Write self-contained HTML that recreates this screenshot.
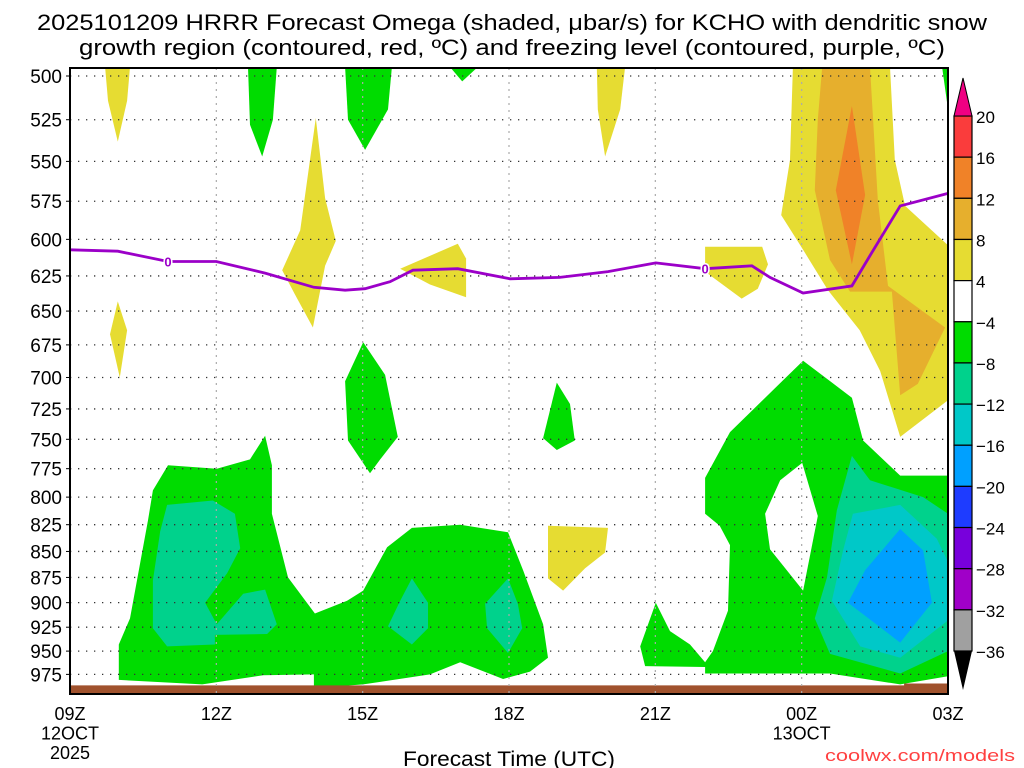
<!DOCTYPE html>
<html><head><meta charset="utf-8"><style>
body{margin:0;background:#fff;}
svg{display:block;font-family:"Liberation Sans",sans-serif;}
</style></head><body>
<svg id="chart" width="1024" height="768" viewBox="0 0 1024 768" xmlns="http://www.w3.org/2000/svg">
<rect width="1024" height="768" fill="#fff"/>
<text x="512" y="30" font-size="22" text-anchor="middle" fill="#000" textLength="950" lengthAdjust="spacingAndGlyphs">2025101209 HRRR Forecast Omega (shaded, μbar/s) for KCHO with dendritic snow</text>
<text x="512" y="55" font-size="22" text-anchor="middle" fill="#000" textLength="866" lengthAdjust="spacingAndGlyphs">growth region (contoured, red, ºC) and freezing level (contoured, purple, ºC)</text>
<g id="fills"></g>
<g id="grid"></g>
<g id="lines"></g>
<g id="axes"></g>
<g id="cbar"></g>
<text x="509" y="766" font-size="21" text-anchor="middle" textLength="212" lengthAdjust="spacingAndGlyphs">Forecast Time (UTC)</text>
<text x="1015" y="761" font-size="17" text-anchor="end" fill="#ff4040" textLength="190" lengthAdjust="spacingAndGlyphs">coolwx.com/models</text>
</svg>
<script>
const pTicks=[500,525,550,575,600,625,650,675,700,725,750,775,800,825,850,875,900,925,950,975];
const hTicks=[0,3,6,9,12,15,18];
const hLabels=[["09Z","12OCT","2025"],["12Z"],["15Z"],["18Z"],["21Z"],["00Z","13OCT"],["03Z"]];
const cbLevels=["20","16","12","8","4","−4","−8","−12","−16","−20","−24","−28","−32","−36"];
const cbColors=["#fa3c3c","#f08228","#e6af2d","#e6dc32","#ffffff","#00dc00","#00d28c","#00c8c8","#00a0ff","#1e3cff","#7800dc","#a000c8","#a0a0a0"];
const C={y:"#e6dc32",o1:"#e6af2d",o2:"#f08228",g:"#00dc00",t:"#00d28c",c:"#00c8c8",b:"#00a0ff",w:"#ffffff"};
// each region: [color, hours, pressures]
const regions=[
["y",[14.82,16.81,16.91,17.12,18,18,17.02,16.61,16.19,15.54,15.03,14.58,14.76],[495,495,549,578,604,718,748,695,664,635,607,584,549]],
["o1",[15.42,16.4,16.56,16.77,17.94,17.38,17.02,16.85,15.99,15.58,15.27,15.33],[495,495,574,632,662,705,714,636,636,614,568,525]],
["o2",[16.03,16.3,16.03,15.7],[517,571,617,568]],
["y",[0.72,1.23,1.17,0.98,0.78],[495,495,514,538,514]],
["g",[3.65,4.24,4.16,3.94,3.69],[495,495,525,547,528]],
["g",[5.64,6.6,6.52,6.05,5.7],[495,495,519,543,525]],
["g",[7.79,8.36,8.04],[495,495,503]],
["y",[10.8,11.38,11.28,10.97,10.82],[495,495,519,547,519]],
["g",[17.88,18,18],[495,495,519]],
["y",[5.04,5.23,5.45,5.23,4.98,4.61,4.35,4.72],[524,573,601,618,662,638,621,594]],
["y",[6.77,7.95,8.12,8.12,7.38],[620,603,613,640,631]],
["y",[13.02,14.19,14.31,14.1,13.77,13.02],[605,605,617,634,641,622]],
["y",[0.98,1.17,1.02,0.82],[643,664,700,667]],
["g",[6.01,6.46,6.72,6.36,6.15,5.7,5.64],[673,698,748,767,779,751,703]],
["g",[9.98,10.25,10.35,9.98,9.7],[704,721,751,759,749]],
["y",[9.8,11.03,10.97,10.56,10.11,9.8],[826,828,851,866,888,876]],
["g",[1.7,2.01,3.01,3.69,4.0,4.14,4.14,4.47,5.02,5.68,6.01,6.5,7.01,8.0,8.98,9.29,9.7,9.8,9.43,8.88,8.0,7.38,6.01,5.0,5.0,3.96,2.71,1.0,1.0,1.23,1.6],
 [794,772,775,767,747,772,815,875,911,898,888,846,828,825,832,868,922,957,972,980,962,975,986,990,975,976,986,981,943,916,821]],
["t",[1.99,2.93,3.38,3.49,3.22,2.77,3.01,3.55,4.0,4.24,4.04,2.97,2.97,1.99,1.7,1.7,1.85],[807,803,815,847,871,900,922,891,887,922,932,933,943,945,926,878,831]],
["t",[7.01,7.34,7.34,7.01,6.52,6.77],[876,900,926,943,924,898]],
["t",[8.98,9.18,9.27,8.98,8.55,8.51],[876,901,926,952,926,901]],
["g",[15.03,16.03,16.26,17.02,18,18,17.02,15.58,13.02,13.02,11.79,11.69,12.01,12.3,12.71,13.02,13.18,13.49,13.53,13.32,13.02,13.02,13.53],
 [687,716,751,781,781,977,986,974,974,967,966,945,900,929,943,962,950,908,844,826,815,783,744]],
["w",[15.01,15.33,15.03,14.35,14.25,14.56],[770,817,888,848,815,785]],
["t",[16.03,16.4,17.49,18,18,17.02,15.58,15.27,15.52,15.72],[764,785,800,815,950,974,953,916,875,812]],
["c",[16.05,17.02,17.77,18,18,17.02,16.2,15.62,15.85],[815,807,838,860,918,957,945,898,849]],
["b",[17.02,17.49,17.67,17.02,15.95,16.3],[829,849,900,941,900,868]]
];
const frzHours=[0,0.98,2.01,3.0,4.0,5.0,5.64,6.05,6.56,7.03,7.95,9.02,10.04,11.03,12.01,13.02,13.98,14.35,15.03,16.03,16.4,17.02,18];
const frzPres=[607,608,615,615,623,633,635,634,629,621,620,627,626,622,616,620,618,626,637,632,611,578,570];
const frzLabelHours=[2.01,13.02];
const frzLabelPres=[615,620];
const sfcHours=[0,17.1,17.1,18];
const sfcPres=[987,987,985,985];

const X0=70,X1=948,Y0=68,Y1=694;
const xS=h=>X0+h*(X1-X0)/18;
const yS=p=>76+896*Math.log(p/500);
const NS="http://www.w3.org/2000/svg";
function mk(tag,parent){const e=document.createElementNS(NS,tag);parent.appendChild(e);return e;}
const fills=document.getElementById('fills'),grid=document.getElementById('grid'),lines=document.getElementById('lines'),axes=document.getElementById('axes'),cbar=document.getElementById('cbar');
const svg=document.getElementById('chart');
const cp=mk('clipPath',svg);cp.setAttribute('id','clip');
const cr=mk('rect',cp);cr.setAttribute('x',X0);cr.setAttribute('y',Y0);cr.setAttribute('width',X1-X0);cr.setAttribute('height',Y1-Y0);
fills.setAttribute('clip-path','url(#clip)');
regions.forEach((r,i)=>{
  const pg=mk('polygon',fills);
  
  
  pg.setAttribute('points',r[1].map((h,j)=>xS(h).toFixed(1)+','+yS(r[2][j]).toFixed(1)).join(' '));
  pg.setAttribute('fill',C[r[0]]);
});
const sb=mk('polygon',fills);


sb.setAttribute('points',sfcHours.map((h,j)=>xS(h)+','+yS(sfcPres[j])).join(' ')+' '+X1+','+Y1+' '+X0+','+Y1);
sb.setAttribute('fill','#a0522d');
pTicks.forEach(p=>{
  const l=mk('line',grid);
  
  
  l.setAttribute('x1',X0);l.setAttribute('x2',X1);l.setAttribute('y1',yS(p));l.setAttribute('y2',yS(p));
  l.setAttribute('stroke','#333');l.setAttribute('stroke-width','1.3');l.setAttribute('stroke-dasharray','1.3 6.7');
  const t=mk('text',axes);
  
  
  t.setAttribute('x',62);t.setAttribute('y',yS(p)+7);t.setAttribute('font-size','19');t.setAttribute('text-anchor','end');
  t.textContent=p;
  const tk=mk('line',axes);
  
  
  tk.setAttribute('x1',X0-4);tk.setAttribute('x2',X0);tk.setAttribute('y1',yS(p));tk.setAttribute('y2',yS(p));tk.setAttribute('stroke','#000');
});
hTicks.forEach((h,i)=>{
  if(i>0&&i<hTicks.length-1){
    const l=mk('line',grid);
    
    
    l.setAttribute('x1',xS(h));l.setAttribute('x2',xS(h));l.setAttribute('y1',Y0);l.setAttribute('y2',Y1);
    l.setAttribute('stroke','#aaa');l.setAttribute('stroke-width','1.2');l.setAttribute('stroke-dasharray','2 5');
  }
  hLabels[i].forEach((s,k)=>{
    const t=mk('text',axes);
    
    
    t.setAttribute('x',xS(h));t.setAttribute('y',720+k*19.5);t.setAttribute('font-size','18');t.setAttribute('text-anchor','middle');
    t.textContent=s;
  });
});
const fl=mk('polyline',lines);


fl.setAttribute('points',frzHours.map((h,j)=>xS(h).toFixed(1)+','+yS(frzPres[j]).toFixed(1)).join(' '));
fl.setAttribute('fill','none');fl.setAttribute('stroke','#9b00c8');fl.setAttribute('stroke-width','2.8');
frzLabelHours.forEach((h,j)=>{
  const t=mk('text',lines);
  
  
  t.setAttribute('x',xS(h));t.setAttribute('y',yS(frzLabelPres[j])+5);t.setAttribute('font-size','13');t.setAttribute('font-weight','bold');
  t.setAttribute('text-anchor','middle');t.setAttribute('fill','#9b00c8');t.setAttribute('stroke','#fff');t.setAttribute('stroke-width','3');t.setAttribute('paint-order','stroke');
  t.textContent='0';
});
const fr=mk('rect',axes);


fr.setAttribute('x',X0);fr.setAttribute('y',Y0);fr.setAttribute('width',X1-X0);fr.setAttribute('height',Y1-Y0);
fr.setAttribute('fill','none');fr.setAttribute('stroke','#000');fr.setAttribute('stroke-width','2');
const CB0=116,CB1=651,cx0=954,cx1=972,bh=(CB1-CB0)/cbColors.length;
cbColors.forEach((c,i)=>{
  const r=mk('rect',cbar);
  
  
  r.setAttribute('x',cx0);r.setAttribute('y',CB0+i*bh);r.setAttribute('width',cx1-cx0);r.setAttribute('height',bh);
  r.setAttribute('fill',c);r.setAttribute('stroke','#000');r.setAttribute('stroke-width','1.2');
});
cbLevels.forEach((s,i)=>{
  const t=mk('text',cbar);
  
  
  t.setAttribute('x',976);t.setAttribute('y',CB0+i*bh+7);t.setAttribute('font-size','17');
  t.textContent=s;
});
const tu=mk('polygon',cbar);


tu.setAttribute('points',cx0+','+CB0+' '+cx1+','+CB0+' '+((cx0+cx1)/2)+',78');
tu.setAttribute('fill','#f00082');tu.setAttribute('stroke','#000');
const td=mk('polygon',cbar);


td.setAttribute('points',cx0+','+CB1+' '+cx1+','+CB1+' '+((cx0+cx1)/2)+',690');
td.setAttribute('fill','#000');
</script>
</body></html>
